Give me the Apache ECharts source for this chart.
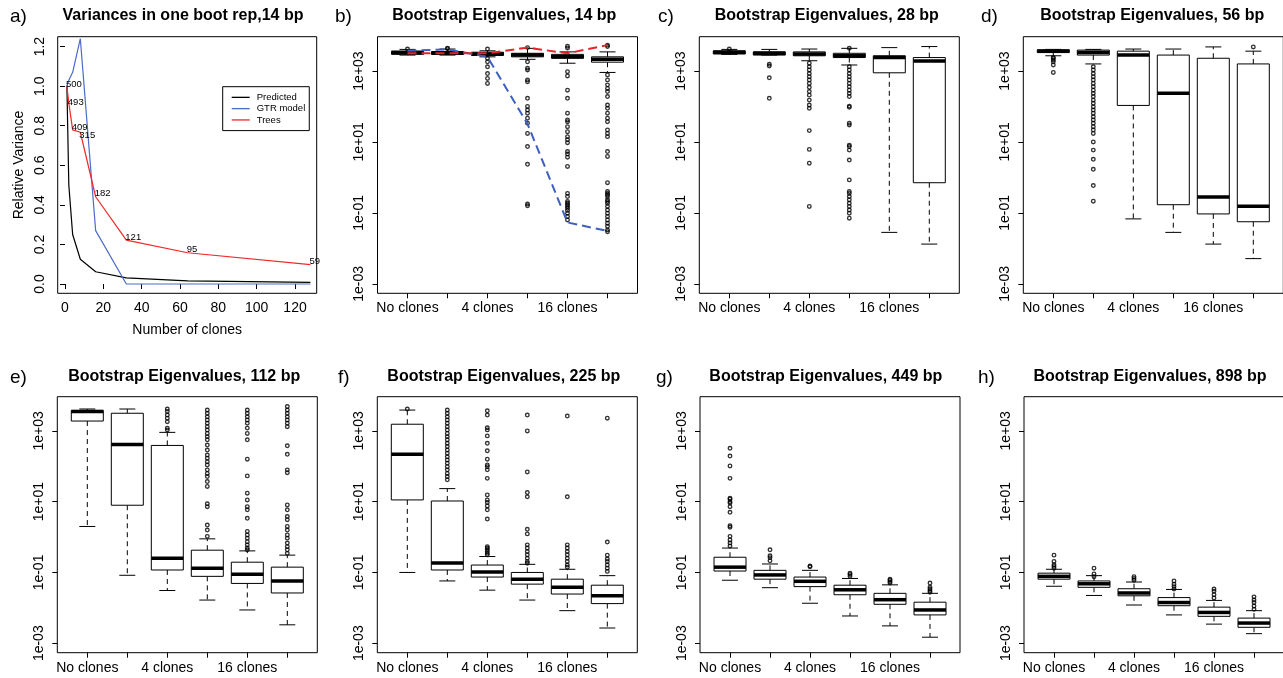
<!DOCTYPE html>
<html>
<head>
<meta charset="utf-8">
<script src="https://cdn.jsdelivr.net/npm/echarts@6/dist/echarts.min.js"></script>
<style>
html, body { margin: 0; padding: 0; background: #fff; }
#chart { width: 1283px; height: 678px; }
</style>
</head>
<body>
<div id="chart"></div>
<script>
// ---- data ----
var cloneNames = ['No clones', '2 clones', '4 clones', '8 clones', '16 clones', '32 clones'];
var logTicks = [0.001, 0.1, 10, 1000];
var logTickLabels = ['1e-03', '1e-01', '1e+01', '1e+03'];

// panel a
var cloneCounts = [1, 2, 4, 8, 16, 32, 64, 128];
var predicted = [1.0, 0.5, 0.25, 0.125, 0.062, 0.031, 0.016, 0.008];
var gtrModel = [1.0, 1.03, 1.07, 1.24, 0.27, 0.0, 0.0, 0.0];
var trees = [1.0, 0.914, 0.779, 0.767, 0.441, 0.222, 0.158, 0.098];
var treeCounts = ['500', '493', '409', '315', '182', '121', '95', '59'];

// sequence length of each panel a..h
var bpLengths = [14, 14, 28, 56, 112, 225, 449, 898];

// box stats, log10 exponents: [lower whisker, Q1, median, Q3, upper whisker]
var boxB = [[3.45, 3.47, 3.52, 3.56, 3.61], [3.45, 3.47, 3.50, 3.55, 3.62], [3.40, 3.44, 3.48, 3.53, 3.57],
            [3.33, 3.40, 3.45, 3.50, 3.64], [3.22, 3.36, 3.40, 3.47, 3.54], [2.96, 3.25, 3.33, 3.40, 3.54]];
var boxC = [[3.47, 3.48, 3.53, 3.57, 3.61], [3.45, 3.45, 3.50, 3.54, 3.61], [3.29, 3.43, 3.48, 3.54, 3.62],
            [3.17, 3.38, 3.43, 3.50, 3.64], [-1.55, 2.95, 3.38, 3.43, 3.66], [-1.88, -0.15, 3.28, 3.38, 3.69]];
var boxD = [[3.43, 3.52, 3.56, 3.60, 3.61], [3.20, 3.45, 3.52, 3.59, 3.61], [-1.17, 2.03, 3.45, 3.56, 3.62],
            [-1.55, -0.77, 2.37, 3.45, 3.62], [-1.88, -1.03, -0.55, 3.36, 3.68], [-2.29, -1.25, -0.81, 3.20, 3.56]];
var boxE = [[0.30, 3.28, 3.55, 3.58, 3.62], [-1.08, 0.90, 2.62, 3.50, 3.62], [-1.51, -0.93, -0.60, 2.59, 2.96],
            [-1.78, -1.11, -0.88, -0.37, -0.05], [-2.06, -1.31, -1.05, -0.71, -0.39], [-2.48, -1.58, -1.24, -0.85, -0.51]];
var boxF = [[-1.00, 1.05, 2.34, 3.19, 3.59], [-1.24, -0.93, -0.73, 1.02, 1.37], [-1.50, -1.13, -0.99, -0.79, -0.55],
            [-1.78, -1.33, -1.19, -1.00, -0.77], [-2.08, -1.61, -1.42, -1.19, -0.91], [-2.57, -1.88, -1.66, -1.36, -1.09]];
var boxG = [[-1.22, -0.96, -0.85, -0.57, -0.31], [-1.43, -1.19, -1.07, -0.94, -0.76], [-1.87, -1.40, -1.25, -1.13, -0.94],
            [-2.23, -1.63, -1.49, -1.36, -1.17], [-2.51, -1.90, -1.77, -1.59, -1.35], [-2.83, -2.20, -2.06, -1.84, -1.59]];
var boxH = [[-1.39, -1.19, -1.11, -1.02, -0.91], [-1.65, -1.42, -1.32, -1.24, -1.09], [-1.92, -1.66, -1.58, -1.46, -1.27],
            [-2.20, -1.94, -1.85, -1.71, -1.48], [-2.46, -2.24, -2.13, -1.98, -1.79], [-2.73, -2.55, -2.43, -2.29, -2.08]];

// outliers, log10 exponents
var outB = [
  [3.62], [3.63, 3.64], [3.62, 3.36, 3.26, 3.12, 2.93, 2.79, 2.65],
  [3.66, 3.26, 3.08, 3.03, 2.75, 2.70, 2.23, 2.00, 1.90, 1.81, 1.67, 1.53, 1.24, 0.87, 0.37, -0.75, -0.80],
  [3.70, 3.65, 2.98, 2.86, 2.46, 2.23, 1.81, 1.62, 1.57, 1.43, 1.29, 1.15, 1.06, 0.98, 0.73, 0.66, 0.57, 0.31,
   -0.45, -0.54, -0.68, -0.73, -0.77, -0.82, -0.87, -0.93, -1.01, -1.10, -1.20],
  [3.73, 3.69, 2.89, 2.75, 2.61, 2.51, 2.42, 2.28, 2.04, 1.95, 1.81, 1.67, 1.57, 1.34, 1.24, 1.15, 0.73, 0.59,
   -0.15, -0.40, -0.45, -0.49, -0.54, -0.63, -0.68, -0.73, -0.82, -0.92, -1.01, -1.10, -1.20, -1.29, -1.38, -1.48, -1.53]
];
var outC = [
  [3.62], [3.19, 3.14, 2.81, 2.23],
  [3.22, 3.12, 3.03, 2.93, 2.84, 2.75, 2.65, 2.54, 2.42, 2.32, 2.18, 2.04, 1.95, 1.32, 0.79, 0.40, -0.82],
  [3.64, 3.12, 3.03, 2.93, 2.84, 2.75, 2.65, 2.56, 2.46, 2.37, 2.28, 2.01, 1.98, 1.53, 1.48, 0.91, 0.87, 0.77, 0.49,
   -0.07, -0.40, -0.45, -0.54, -0.63, -0.73, -0.82, -0.92, -1.01, -1.15],
  [], []
];
var outD = [
  [3.38, 3.36, 3.31, 3.26, 3.17, 2.96],
  [3.12, 3.03, 2.93, 2.84, 2.75, 2.65, 2.56, 2.46, 2.37, 2.28, 2.18, 2.09, 1.99, 1.90, 1.81, 1.71, 1.62, 1.53, 1.43,
   1.34, 1.24, 1.00, 0.77, 0.51, 0.23, -0.23, -0.67],
  [], [], [], [3.68]
];
var outE = [
  [], [], [3.62, 3.55, 3.45, 3.36, 3.26, 3.08, 3.03],
  [3.59, 3.50, 3.40, 3.31, 3.22, 3.12, 3.03, 2.93, 2.84, 2.75, 2.60, 2.46, 2.32, 2.23, 2.13, 2.04, 1.90, 1.80, 1.71,
   1.57, 1.43, 0.94, 0.86, 0.34, 0.20, 0.02],
  [3.59, 3.50, 3.40, 3.31, 3.22, 3.08, 2.93, 2.75, 2.20, 1.73, 1.24, 1.05, 0.86, 0.77, 0.53, 0.16, 0.06, -0.03,
   -0.13, -0.22, -0.31, -0.36],
  [3.69, 3.59, 3.50, 3.40, 3.31, 3.22, 3.12, 2.58, 2.34, 1.90, 1.82, 0.91, 0.77, 0.58, 0.49, 0.30, 0.20, 0.06,
   -0.03, -0.17, -0.27, -0.36, -0.46]
];
var outF = [
  [3.62],
  [3.59, 3.50, 3.40, 3.31, 3.22, 3.12, 3.03, 2.93, 2.84, 2.75, 2.65, 2.56, 2.46, 2.37, 2.27, 2.18, 2.09, 1.99, 1.90,
   1.80, 1.71, 1.62],
  [3.57, 3.45, 3.09, 3.03, 2.86, 2.65, 2.44, 2.20, 2.04, 1.99, 1.90, 1.66, 1.19, 1.05, 0.98, 0.88, 0.77, 0.51,
   -0.27, -0.31, -0.36, -0.41, -0.46, -0.50],
  [3.45, 3.00, 1.84, 1.26, 1.14, 0.22, 0.09, -0.22, -0.31, -0.41, -0.50, -0.60, -0.69, -0.74],
  [3.42, 1.14, -0.22, -0.31, -0.41, -0.50, -0.60, -0.69, -0.79, -0.85],
  [3.36, -0.14, -0.51, -0.62, -0.69, -0.79, -0.88, -0.97]
];
var outG = [
  [2.51, 2.29, 2.01, 1.66, 1.10, 1.07, 1.00, 0.96, 0.86, 0.70, 0.32, 0.28, 0.02, -0.08, -0.17, -0.25],
  [-0.36, -0.53, -0.58, -0.67], [-0.82, -0.84], [-1.02, -1.06, -1.11],
  [-1.19, -1.22, -1.26, -1.30], [-1.30, -1.42, -1.47, -1.52, -1.56]
];
var outH = [
  [-0.51, -0.69, -0.78, -0.83, -0.88], [-0.88, -1.04, -1.12], [-1.12, -1.17, -1.22],
  [-1.24, -1.33, -1.40, -1.47], [-1.47, -1.53, -1.63, -1.72], [-1.69, -1.78, -1.85, -1.95, -2.04]
];

// panel b dashed lines, log10 exponents
var gtrLineB = [3.57, 3.61, 3.40, 1.51, -1.27, -1.51];
var treeLineB = [3.50, 3.50, 3.50, 3.66, 3.50, 3.73];

// ---- layout ----
var FONT = '"Liberation Sans", Arial, Helvetica, sans-serif';
var ROW_TOP = [36.7, 396.7];
var ROW_H = [256.6, 256];
var LOG_MIN = Math.pow(10, -3.268);
var LOG_MAX = Math.pow(10, 3.968);
// vertical nudge (px) of the count labels in panel a
var countLabelDy = [-2, -1, -3, 3, -3, -3, -3, -3];

var boxPanels = [
  {letter: 'b)', stats: boxB, outs: outB, row: 0, left: 377.5, letterX: 335, titleX: 504.3},
  {letter: 'c)', stats: boxC, outs: outC, row: 0, left: 699.3, letterX: 658, titleX: 826.8},
  {letter: 'd)', stats: boxD, outs: outD, row: 0, left: 1023.3, letterX: 981, titleX: 1152.2},
  {letter: 'e)', stats: boxE, outs: outE, row: 1, left: 57.3, letterX: 10, titleX: 184.2},
  {letter: 'f)', stats: boxF, outs: outF, row: 1, left: 377.3, letterX: 338, titleX: 503.8},
  {letter: 'g)', stats: boxG, outs: outG, row: 1, left: 700, letterX: 656, titleX: 825.8},
  {letter: 'h)', stats: boxH, outs: outH, row: 1, left: 1024, letterX: 978, titleX: 1150}
];
var TITLE_Y = [16, 376.7];
var LETTER_Y = [16.5, 378];

function pow10(e) { return Math.pow(10, e); }

function logLabel(v) {
  var e = Math.log(v) / Math.LN10;
  for (var i = 0; i < logTicks.length; i++) {
    if (Math.abs(Math.log(logTicks[i]) / Math.LN10 - e) < 0.01) return logTickLabels[i];
  }
  return '';
}

function renderBox(params, api) {
  var x = api.value(0);
  var lo = api.coord([x, api.value(1)]);
  var q1 = api.coord([x, api.value(2)]);
  var md = api.coord([x, api.value(3)]);
  var q3 = api.coord([x, api.value(4)]);
  var hi = api.coord([x, api.value(5)]);
  var cx = md[0];
  var half = api.coord([x + 0.4, api.value(3)])[0] - cx;
  var cap = half / 2;
  var dash = {stroke: '#000', lineWidth: 1, lineDash: [5, 4]};
  var thin = {stroke: '#000', lineWidth: 1};
  return {
    type: 'group',
    children: [
      {type: 'line', shape: {x1: cx, y1: q3[1], x2: cx, y2: hi[1]}, style: dash},
      {type: 'line', shape: {x1: cx, y1: q1[1], x2: cx, y2: lo[1]}, style: dash},
      {type: 'line', shape: {x1: cx - cap, y1: hi[1], x2: cx + cap, y2: hi[1]}, style: thin},
      {type: 'line', shape: {x1: cx - cap, y1: lo[1], x2: cx + cap, y2: lo[1]}, style: thin},
      {type: 'rect', shape: {x: cx - half, y: q3[1], width: 2 * half, height: q1[1] - q3[1]},
        style: {fill: '#fff', stroke: '#000', lineWidth: 1}},
      {type: 'line', shape: {x1: cx - half, y1: md[1], x2: cx + half, y2: md[1]},
        style: {stroke: '#000', lineWidth: 3.5}}
    ]
  };
}

var grids = [], xAxes = [], yAxes = [], series = [], graphics = [];

function textEl(txt, x, y, font) {
  return {type: 'text', x: x, y: y, silent: true,
    style: {text: txt, font: font, fill: '#000', textAlign: 'center', textVerticalAlign: 'middle',
      align: 'center', verticalAlign: 'middle'}};
}
function letterEl(txt, x, y) {
  return {type: 'text', x: x, y: y, silent: true,
    style: {text: txt, font: '19px ' + FONT, fill: '#000', textAlign: 'left', textVerticalAlign: 'middle',
      align: 'left', verticalAlign: 'middle'}};
}

var tickStyle = {show: true, inside: false, length: 5, lineStyle: {color: '#000', width: 1}};
var labelBase = {color: '#000', fontSize: 14, fontFamily: FONT};

// ---- panel a ----
grids.push({left: 57.7, top: ROW_TOP[0], width: 259, height: ROW_H[0], show: true,
  borderColor: '#000', borderWidth: 1, backgroundColor: 'transparent', outerBoundsMode: 'none'});
xAxes.push({type: 'value', gridIndex: 0, min: -3.8, max: 131.3,
  name: 'Number of clones', nameLocation: 'middle', nameGap: 30,
  nameTextStyle: {color: '#000', fontSize: 14, fontFamily: FONT},
  axisLine: {show: false}, splitLine: {show: false},
  axisTick: Object.assign({customValues: [0, 20, 40, 60, 80, 100, 120]}, tickStyle),
  axisLabel: Object.assign({customValues: [0, 20, 40, 60, 80, 100, 120], margin: 8}, labelBase)});
yAxes.push({type: 'value', gridIndex: 0, min: -0.047, max: 1.25,
  name: 'Relative Variance', nameLocation: 'middle', nameGap: 32,
  nameTextStyle: {color: '#000', fontSize: 14, fontFamily: FONT},
  axisLine: {show: false}, splitLine: {show: false},
  axisTick: Object.assign({customValues: [0, 0.2, 0.4, 0.6, 0.8, 1.0, 1.2]}, tickStyle),
  axisLabel: Object.assign({customValues: [0, 0.2, 0.4, 0.6, 0.8, 1.0, 1.2], rotate: 90, margin: 11,
    formatter: function (v) { return v.toFixed(1); }}, labelBase)});

function pairs(xs, ys) {
  return xs.map(function (x, i) { return [x, ys[i]]; });
}

series.push({name: 'Predicted', type: 'line', xAxisIndex: 0, yAxisIndex: 0, data: pairs(cloneCounts, predicted),
  showSymbol: false, lineStyle: {color: '#000', width: 1.2}, itemStyle: {color: '#000'}, silent: true});
series.push({name: 'GTR model', type: 'line', xAxisIndex: 0, yAxisIndex: 0, data: pairs(cloneCounts, gtrModel),
  showSymbol: false, lineStyle: {color: '#4d6bc8', width: 1.2}, itemStyle: {color: '#4d6bc8'}, silent: true});
series.push({name: 'Trees', type: 'line', xAxisIndex: 0, yAxisIndex: 0,
  data: pairs(cloneCounts, trees).map(function (d, i) {
    return {value: d, label: {offset: [-1, countLabelDy[i]]}};
  }),
  symbol: 'circle', symbolSize: 0.01, showSymbol: true,
  lineStyle: {color: '#f02828', width: 1.2}, itemStyle: {color: '#f02828'}, silent: true,
  label: {show: true, position: 'right', distance: 0, color: '#000', fontSize: 9.5,
    fontFamily: FONT, formatter: function (p) { return treeCounts[p.dataIndex]; }}});

graphics.push(textEl('Variances in one boot rep,' + bpLengths[0] + ' bp', 183, TITLE_Y[0], 'bold 16px ' + FONT));
graphics.push(letterEl('a)', 10, LETTER_Y[0]));

// ---- box panels ----
boxPanels.forEach(function (p, k) {
  var gi = k + 1;
  grids.push({left: p.left, top: ROW_TOP[p.row], width: 260, height: ROW_H[p.row], show: true,
    borderColor: '#000', borderWidth: 1, backgroundColor: 'transparent', outerBoundsMode: 'none'});
  xAxes.push({type: 'value', gridIndex: gi, min: 0.25, max: 6.75,
    axisLine: {show: false}, splitLine: {show: false},
    axisTick: Object.assign({customValues: [1, 2, 3, 4, 5, 6]}, tickStyle),
    axisLabel: Object.assign({customValues: [1, 3, 5], margin: 8,
      formatter: function (v) { return cloneNames[Math.round(v) - 1]; }}, labelBase)});
  yAxes.push({type: 'log', logBase: 10, gridIndex: gi, min: LOG_MIN, max: LOG_MAX,
    axisLine: {show: false}, splitLine: {show: false},
    axisTick: Object.assign({customValues: logTicks}, tickStyle),
    axisLabel: Object.assign({customValues: logTicks, rotate: 90, margin: 11, formatter: logLabel}, labelBase)});

  series.push({type: 'custom', xAxisIndex: gi, yAxisIndex: gi, renderItem: renderBox, silent: true,
    encode: {x: 0, y: [1, 2, 3, 4, 5]},
    data: p.stats.map(function (s, i) { return [i + 1].concat(s.map(pow10)); })});

  var pts = [];
  p.outs.forEach(function (list, i) {
    list.forEach(function (e) { pts.push([i + 1, pow10(e)]); });
  });
  series.push({type: 'scatter', xAxisIndex: gi, yAxisIndex: gi, data: pts, silent: true, z: 3,
    symbol: 'circle', symbolSize: 3.6,
    itemStyle: {color: 'rgba(0,0,0,0)', borderColor: '#000', borderWidth: 1.35}});

  graphics.push(textEl('Bootstrap Eigenvalues, ' + bpLengths[gi] + ' bp', p.titleX, TITLE_Y[p.row], 'bold 16px ' + FONT));
  graphics.push(letterEl(p.letter, p.letterX, LETTER_Y[p.row]));
});

// dashed reference lines in panel b
series.push({type: 'line', xAxisIndex: 1, yAxisIndex: 1, silent: true, showSymbol: false, z: 4,
  data: pairs([1, 2, 3, 4, 5, 6], gtrLineB.map(pow10)),
  lineStyle: {color: '#3d5fbf', width: 2, type: [9, 5]}});
series.push({type: 'line', xAxisIndex: 1, yAxisIndex: 1, silent: true, showSymbol: false, z: 5,
  data: pairs([1, 2, 3, 4, 5, 6], treeLineB.map(pow10)),
  lineStyle: {color: '#e8222a', width: 2, type: [9, 5]}});

var chart = echarts.init(document.getElementById('chart'));
chart.setOption({
  animation: false,
  backgroundColor: '#fff',
  grid: grids,
  xAxis: xAxes,
  yAxis: yAxes,
  legend: {
    data: ['Predicted', 'GTR model', 'Trees'],
    left: 222.7, top: 86.7, orient: 'vertical', selectedMode: false,
    padding: [5, 4, 5, 9], itemGap: 0, itemWidth: 18, itemHeight: 1.3, icon: 'rect',
    borderColor: '#000', borderWidth: 1, backgroundColor: '#fff',
    textStyle: {color: '#000', fontSize: 9.5, lineHeight: 11.3, fontFamily: FONT, padding: [0, 0, 0, 2]}
  },
  graphic: graphics,
  series: series
});

window.onresize = function () {
  chart.resize();
};
</script>
</body>
</html>
